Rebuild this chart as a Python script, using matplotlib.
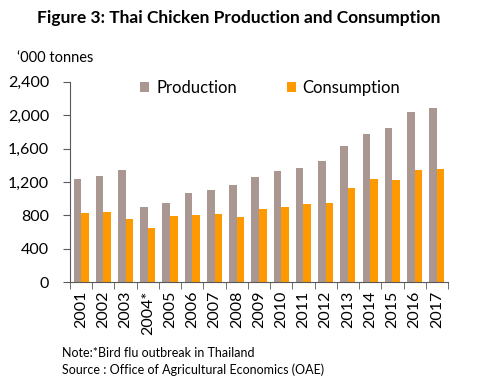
import numpy as np
import matplotlib.pyplot as plt

years = ['2001', '2002', '2003', '2004*', '2005', '2006', '2007', '2008', '2009',
         '2010', '2011', '2012', '2013', '2014', '2015', '2016', '2017']
production = [1235, 1270, 1345, 900, 950, 1070, 1105, 1165, 1260,
              1330, 1370, 1450, 1630, 1775, 1845, 2040, 2085]
consumption = [830, 840, 755, 650, 795, 805, 815, 780, 875,
               900, 935, 945, 1130, 1235, 1225, 1345, 1355]

plt.rcParams['font.family'] = ['Lato', 'DejaVu Sans']

fig = plt.figure(figsize=(4.78, 3.84), dpi=100)
ax = fig.add_axes([0.1464, 0.2648, 0.7908, 0.5224])

x = np.arange(len(years))
w = 0.34
ax.bar(x - w / 2, production, w, color='#ab9792', label='Production')
ax.bar(x + w / 2, consumption, w, color='#ff9900', label='Consumption')

ax.set_xlim(-0.5, len(years) - 0.5)
ax.set_ylim(0, 2400)
ax.set_yticks(range(0, 2401, 400))
ax.set_yticklabels([f'{v:,}' for v in range(0, 2401, 400)], fontsize=11.5)

ax.set_xticks(x)
ax.set_xticklabels(years, rotation=90, fontsize=11.5)
ax.tick_params(axis='x', length=0, pad=6)
ax.set_xticks(np.arange(-0.5, len(years)), minor=True)
ax.tick_params(axis='x', which='minor', length=5, color='#595959')
ax.tick_params(axis='y', length=5, color='#595959', pad=10)

for s in ['top', 'right']:
    ax.spines[s].set_visible(False)
for s in ['left', 'bottom']:
    ax.spines[s].set_color('#595959')

ax.legend(loc='upper center', bbox_to_anchor=(0.53, 1.085), ncol=2, frameon=False,
          fontsize=12, handlelength=0.55, handleheight=0.55, columnspacing=3.0,
          handletextpad=0.4)

fig.text(0.5, 0.953, 'Figure 3: Thai Chicken Production and Consumption',
         ha='center', va='center', fontsize=12.5, fontweight='bold')
fig.text(0.035, 0.848, '\u2018000 tonnes', ha='left', va='center', fontsize=10.5)
fig.text(0.13, 0.08, 'Note:*Bird flu outbreak in Thailand', fontsize=9, va='center')
fig.text(0.13, 0.036, 'Source : Office of Agricultural Economics (OAE)', fontsize=9, va='center')

fig.savefig('out.png', dpi=100)
